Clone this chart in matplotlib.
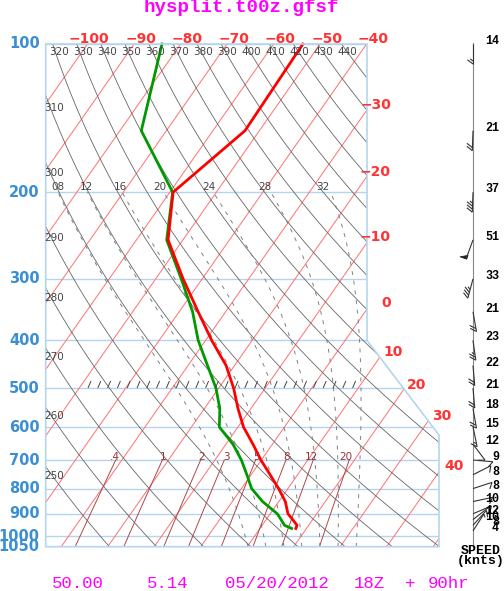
import numpy as np
import matplotlib
matplotlib.use('Agg')
import matplotlib.pyplot as plt
from matplotlib.transforms import Affine2D, offset_copy
from matplotlib.patches import Polygon
from matplotlib.collections import LineCollection, PolyCollection

# sounding (hPa, degC)
pres = [100, 150, 200, 250, 300, 350, 400, 450, 500, 550, 600, 650, 700, 750,
        800, 850, 900, 925, 950, 964]
temp = [-53.7, -53.1, -59.3, -53.2, -44.1, -35.9, -28.7, -21.8, -16.8, -12.8,
        -8.8, -4.2, -0.1, 4.1, 8.0, 11.4, 13.8, 15.7, 17.5, 17.7]
dewp = [-84.0, -75.4, -59.4, -53.5, -44.5, -37.1, -31.6, -25.8, -20.6, -16.7,
        -14.0, -8.5, -4.3, -0.9, 2.2, 6.5, 11.5, 13.2, 14.8, 16.8]

# winds (hPa, knots, direction from)
wind_p = [100, 150, 200, 250, 300, 350, 400, 450, 500, 550, 600, 650, 700,
          750, 800, 850, 900, 925, 950, 975]
wind_spd = [14, 21, 37, 51, 33, 21, 23, 22, 21, 18, 15, 12, 9, 8, 8, 10, 12,
            10, 8, 4]
wind_dir = [180, 182, 182, 200, 195, 170, 172, 175, 175, 170, 168, 143, 95,
            63, 72, 78, 67, 52, 42, 33]

p_levels = [100, 200, 300, 400, 500, 600, 700, 800, 900, 1000, 1050]
isotherms = np.arange(-160, 60, 10)
theta_lines = np.arange(250, 450, 10)
thetaw_lines = [8, 12, 16, 20, 24, 28, 32]
mix_lines = [0.4, 1, 2, 3, 5, 8, 12, 20]
mix_labels = ['.4', '1', '2', '3', '5', '8', '12', '20']

W, H = 504, 591
x_left, x_right = 45.7, 439.0
y_top, y_bot = 44.0, 546.7
x_zero = 200.7      # 0C at 1050 hPa
px_deg = 4.65
skew = 0.70

blue_l = '#b4d6ec'
blue_t = '#3a8fd4'
red_t = '#ff3333'
mono = 'Liberation Mono'

fig = plt.figure(figsize=(W / 100, H / 100), dpi=100)

ax = fig.add_axes([x_left / W, 1 - y_bot / H, (x_right - x_left) / W, (y_bot - y_top) / H])
ax.set_yscale('log')
ax.set_ylim(1050, 100)
ax.set_xlim((x_left - x_zero) / px_deg, (x_right - x_zero) / px_deg)
ax.axis('off')
ax.patch.set_visible(False)
y0 = H - y_bot
tr = ax.transData + Affine2D().translate(0, -y0).skew(np.arctan(skew), 0).translate(0, y0)

ov = fig.add_axes([0, 0, 1, 1])
ov.set_xlim(0, W)
ov.set_ylim(H, 0)
ov.axis('off')
ov.patch.set_visible(False)

box = [(x_left, y_top), (367, y_top), (367, 340.4), (439, 435), (439, y_bot), (x_left, y_bot)]
clip = Polygon(box, closed=True, transform=ov.transData)


def bg(T, P, **kw):
    ln, = ax.plot(T, P, transform=tr, **kw)
    ln.set_clip_path(clip)
    return ln


P = np.geomspace(1050, 100, 200)

# pressure lines
for p in p_levels:
    bg([-250, 150], [p, p], color=blue_l, lw=1)

# isotherms
for t in isotherms:
    bg(np.full_like(P, t), P, color='#ff7070', lw=0.7)

# dry adiabats
for th in theta_lines:
    bg(th * (P / 1000) ** 0.286 - 273.15, P, color='#666666', lw=0.6)


# moist adiabats
def dtdp(T, p):
    es = 6.112 * np.exp(17.67 * (T - 273.15) / (T - 29.65))
    rs = 0.622 * es / (p - es)
    return (287.04 * T + 2.501e6 * rs) / (1005.7 + 2.501e6 ** 2 * rs * 0.622 / (287.04 * T * T)) / p


def moist(tw):
    res = []
    for ps in (np.linspace(1000, 200, 401), np.linspace(1000, 1050, 26)):
        T = tw + 273.15
        Ts = [T]
        for i in range(len(ps) - 1):
            p, h = ps[i], ps[i + 1] - ps[i]
            k1 = dtdp(T, p)
            k2 = dtdp(T + h * k1 / 2, p + h / 2)
            k3 = dtdp(T + h * k2 / 2, p + h / 2)
            k4 = dtdp(T + h * k3, p + h)
            T = T + h * (k1 + 2 * k2 + 2 * k3 + k4) / 6
            Ts.append(T)
        res.append((np.array(Ts), ps))
    T = np.concatenate([res[1][0][::-1], res[0][0][1:]]) - 273.15
    Pm = np.concatenate([res[1][1][::-1], res[0][1][1:]])
    return T, Pm


for tw in thetaw_lines:
    Tm, Pm = moist(tw)
    bg(Tm, Pm, color='#808080', lw=0.7, ls=(0, (4, 6)))

# mixing ratio lines
Pw = np.geomspace(1050, 700, 60)
for w in mix_lines:
    e = w * Pw / (622 + w)
    lg = np.log(e / 6.112)
    bg(243.5 * lg / (17.67 - lg), Pw, color='#b04848', lw=0.7)

# box
ov.add_patch(Polygon(box, closed=True, fill=False, edgecolor=blue_l, lw=1.2))

# 500 hPa hatch
segs = [[(x, 388), (x + 3, 381)] for x in np.arange(88, 356, 9.8)]
ov.add_collection(LineCollection(segs, colors='#444444', linewidths=0.7))

# sounding
ax.plot(dewp, pres, color='#009900', lw=2, transform=tr, clip_on=False)
ax.plot(temp, pres, color='#ff0000', lw=2, transform=tr, clip_on=False)

# pressure labels
for p in p_levels:
    ax.text(-0.015, p, str(p), transform=ax.get_yaxis_transform(), ha='right',
            va='center', color=blue_t, fontsize=10.5, fontweight='bold')

# isotherm labels
for t in range(-100, -30, 10):
    ax.text(t, 100, '\u2212%d' % abs(t), transform=offset_copy(tr, fig, x=22, y=5, units='dots'),
            ha='right', va='center', color=red_t, fontsize=10, fontweight='bold',
            clip_on=False)
right_lbl = [(-30, 391, 105, 'right'), (-20, 391, 172, 'right'), (-10, 391, 237, 'right'),
             (0, 391, 303, 'right'), (10, 383, 352, 'left'), (20, 407, 385, 'left'),
             (30, 432, 416, 'left'), (40, 444, 466, 'left')]
for t, x, y, ha in right_lbl:
    s = '\u2212%d' % abs(t) if t < 0 else str(t)
    ov.text(x, y, s, ha=ha, va='center', color=red_t, fontsize=10, fontweight='bold')

# adiabat labels
for th in range(320, 450, 10):
    ax.text(th * 0.1 ** 0.286 - 273.15, 100, str(th),
            transform=offset_copy(tr, fig, x=6, y=-8, units='dots'),
            ha='center', va='center', color='#444444', fontsize=7.5, clip_on=False)
for th, y in zip(range(250, 320, 10), [476, 416, 357, 298, 238, 173, 108]):
    ov.text(44, y, str(th), ha='left', va='center', color='#444444', fontsize=7.5)

# moist adiabat labels
for tw, x in zip(thetaw_lines, [58, 86, 120, 160, 209, 265, 323]):
    ov.text(x, 187, '%02d' % tw, ha='center', va='center', color='#444444', fontsize=7.5)

# mixing ratio labels
for lab, x in zip(mix_labels, [115, 163, 202, 226, 257, 287, 311, 346]):
    ov.text(x, 457, lab, ha='center', va='center', color='#993333', fontsize=7.5)

# wind column, barbs drawn by hand in pixel space
x_w = 473.0
ov.plot([x_w, x_w], [y_top - 1, y_bot], color='#888888', lw=0.8)
rows = H - ax.transData.transform(np.column_stack([np.zeros(len(wind_p)), wind_p]))[:, 1]
staffs, flags = [], []
for yb, spd, dirn in zip(rows, wind_spd, wind_dir):
    d = np.radians(dirn)
    s = np.array([np.sin(d), -np.cos(d)])
    pp = np.array([-s[1], s[0]])
    base = np.array([x_w, yb])
    tip = base + 20 * s
    staffs.append([base, tip])
    r = int(5 * round(spd / 5.0))
    pos = 0.0
    bv = 0.8 * pp - 0.6 * s
    for i in range(r // 50):
        a = tip - pos * s
        flags.append([a, a + 7 * pp, a - 4 * s])
        pos += 5
    r = r % 50
    for i in range(r // 10):
        a = tip - pos * s
        staffs.append([a, a + 7 * bv])
        pos += 3
    if r % 10:
        a = tip - pos * s
        staffs.append([a, a + 3.5 * bv])
ov.add_collection(LineCollection(staffs, colors='#333333', linewidths=0.8))
ov.add_collection(PolyCollection(flags, facecolors='#222222', edgecolors='#222222', linewidths=0.6))

for yb, s in zip(rows, wind_spd):
    ov.text(499, yb - 3, str(s), ha='right', va='center', fontsize=8.5,
            fontweight='bold', family=mono)
ov.text(481, 556, 'SPEED\n(knts)', ha='center', va='center', fontsize=9.5,
        fontweight='bold', family=mono, linespacing=0.85)

# title and footer
ov.text(144, 12, 'hysplit.t00z.gfsf', ha='left', va='baseline', color='#ff00ff',
        fontsize=13.8, fontweight='bold', family=mono)
for x, s in [(52, '50.00'), (147, '5.14'), (225, '05/20/2012'), (354, '18Z'),
             (405, '+'), (428, '90hr')]:
    ov.text(x, 588, s, ha='left', va='baseline', color='#ff00ff', fontsize=12.5,
            family=mono)

fig.savefig('out.png', dpi=100)
